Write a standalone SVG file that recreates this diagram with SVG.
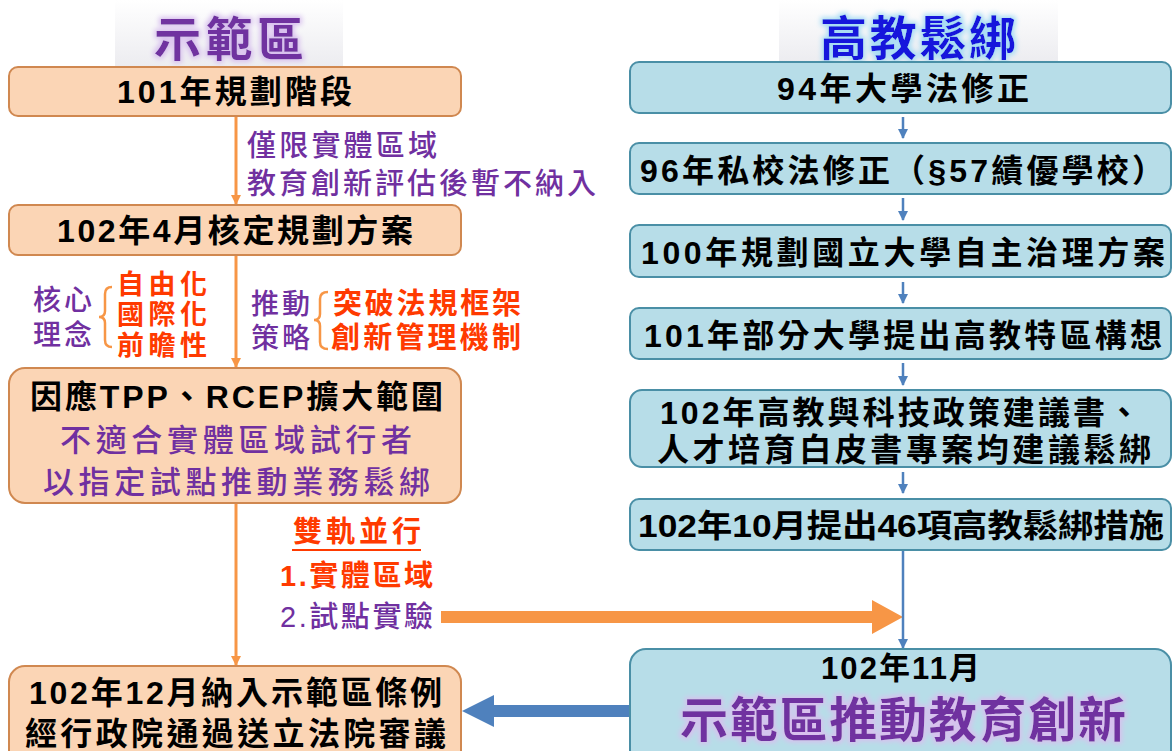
<svg xmlns="http://www.w3.org/2000/svg" width="1172" height="751" viewBox="0 0 1172 751">
<style>
.lbox{fill:#fbd5b5;stroke:#d08850;stroke-width:2}
.rbox{fill:#b7dde8;stroke:#4a8fa6;stroke-width:2}
.bk{font-family:"Liberation Sans","Noto Sans CJK TC",sans-serif;font-weight:bold;fill:#000}
.pu{font-family:"Liberation Sans","Noto Sans CJK TC",sans-serif;font-weight:500;fill:#7030a0}
.rd{font-family:"Liberation Sans","Noto Sans CJK TC",sans-serif;font-weight:bold;fill:#ff3a00}
.big{font-family:"Noto Sans CJK TC",sans-serif;font-weight:bold}
.oline{stroke:#f79646;stroke-width:3;fill:none}
.bline{stroke:#4f81bd;stroke-width:2.5;fill:none}
.brace{stroke:#f79646;stroke-width:2.5;fill:none}
</style>
<defs>
<linearGradient id="tbg" x1="0" y1="0" x2="0" y2="1">
<stop offset="0" stop-color="#ffffff"/>
<stop offset="1" stop-color="#ececf0"/>
</linearGradient>
<filter id="glowP" x="-10%" y="-30%" width="120%" height="160%">
<feMorphology in="SourceAlpha" operator="dilate" radius="2" result="d"/>
<feGaussianBlur in="d" stdDeviation="2.5" result="b"/>
<feFlood flood-color="#d8c0ee"/>
<feComposite in2="b" operator="in" result="g"/>
<feMerge><feMergeNode in="g"/><feMergeNode in="SourceGraphic"/></feMerge>
</filter>
<filter id="glowB" x="-10%" y="-30%" width="120%" height="160%">
<feMorphology in="SourceAlpha" operator="dilate" radius="2" result="d"/>
<feGaussianBlur in="d" stdDeviation="2.5" result="b"/>
<feFlood flood-color="#a8dcf4"/>
<feComposite in2="b" operator="in" result="g"/>
<feMerge><feMergeNode in="g"/><feMergeNode in="SourceGraphic"/></feMerge>
</filter>
<marker id="mo" viewBox="0 0 10 10" refX="9" refY="5" markerWidth="10" markerHeight="10" markerUnits="userSpaceOnUse" orient="auto">
<path d="M0,0 L10,5 L0,10 z" fill="#f79646"/>
</marker>
<marker id="mb" viewBox="0 0 10 10" refX="9" refY="5" markerWidth="10" markerHeight="10" markerUnits="userSpaceOnUse" orient="auto">
<path d="M0,0 L10,5 L0,10 z" fill="#4f81bd"/>
</marker>
</defs>
<rect width="1172" height="751" fill="#ffffff"/>

<g id="title-left">
<rect x="115" y="0" width="228" height="66" fill="url(#tbg)"/>
<text class="big" x="154" y="56" font-size="47" fill="#7030a0" textLength="150" lengthAdjust="spacing" filter="url(#glowP)">示範區</text>
</g>
<g id="title-right">
<rect x="779" y="0" width="279" height="62" fill="url(#tbg)"/>
<text class="big" x="820" y="55" font-size="47" fill="#1414dc" textLength="196" lengthAdjust="spacing" filter="url(#glowB)">高教鬆綁</text>
</g>

<g id="connectors">
<path class="oline" d="M236,117 L236,204" marker-end="url(#mo)"/>
<path class="oline" d="M236,256 L236,367" marker-end="url(#mo)"/>
<path class="oline" d="M236,504 L236,665" marker-end="url(#mo)"/>
<path class="bline" d="M903,117 L903,138" marker-end="url(#mb)"/>
<path class="bline" d="M903,198 L903,220" marker-end="url(#mb)"/>
<path class="bline" d="M903,282 L903,303" marker-end="url(#mb)"/>
<path class="bline" d="M903,363 L903,385" marker-end="url(#mb)"/>
<path class="bline" d="M903,472 L903,493" marker-end="url(#mb)"/>
<polygon points="441,611 872,611 872,600 903,617 872,634 872,623 441,623" fill="#f79646"/>
<path class="bline" d="M903,551 L903,648" marker-end="url(#mb)"/>
<polygon points="630,705 494,705 494,695 462,711 494,727 494,717 630,717" fill="#4f81bd"/>
</g>

<g id="node-l1">
<rect class="lbox" x="9" y="67" width="452" height="49" rx="9"/>
<text class="bk" x="117" y="103" font-size="32" textLength="235" lengthAdjust="spacing">101年規劃階段</text>
</g>
<g id="node-l2">
<rect class="lbox" x="9" y="205" width="452" height="50" rx="9"/>
<text class="bk" x="57" y="242" font-size="32" textLength="356" lengthAdjust="spacing">102年4月核定規劃方案</text>
</g>
<g id="node-l3">
<rect class="lbox" x="9" y="368" width="452" height="135" rx="16"/>
<text class="bk" x="30" y="408" font-size="32" textLength="413" lengthAdjust="spacing">因應TPP、RCEP擴大範圍</text>
<text class="pu" x="60" y="451" font-size="31" font-weight="bold" textLength="352" lengthAdjust="spacing">不適合實體區域試行者</text>
<text class="pu" x="43" y="493" font-size="31" font-weight="bold" textLength="387" lengthAdjust="spacing">以指定試點推動業務鬆綁</text>
</g>
<g id="node-l4">
<rect class="lbox" x="9" y="666" width="452" height="100" rx="16"/>
<text class="bk" x="29" y="704" font-size="32" textLength="413" lengthAdjust="spacing">102年12月納入示範區條例</text>
<text class="bk" x="25" y="745" font-size="32" textLength="421" lengthAdjust="spacing">經行政院通過送立法院審議</text>
</g>

<g id="label-l1">
<text class="pu" x="247" y="156" font-size="29" textLength="190" lengthAdjust="spacing">僅限實體區域</text>
<text class="pu" x="247" y="194" font-size="29" textLength="349" lengthAdjust="spacing">教育創新評估後暫不納入</text>
</g>
<g id="label-core">
<text class="pu" x="33" y="310" font-size="28" textLength="59" lengthAdjust="spacing">核心</text>
<text class="pu" x="33" y="345" font-size="28" textLength="59" lengthAdjust="spacing">理念</text>
<path class="brace" d="M112,287 Q105,287 105,294 L105,311 Q105,317 99,317 Q105,317 105,323 L105,340 Q105,347 112,347"/>
<text class="rd" x="117" y="294" font-size="27" textLength="90" lengthAdjust="spacing">自由化</text>
<text class="rd" x="117" y="324" font-size="27" textLength="90" lengthAdjust="spacing">國際化</text>
<text class="rd" x="117" y="355" font-size="27" textLength="90" lengthAdjust="spacing">前瞻性</text>
</g>
<g id="label-strategy">
<text class="pu" x="251" y="314" font-size="28" textLength="59" lengthAdjust="spacing">推動</text>
<text class="pu" x="251" y="348" font-size="28" textLength="59" lengthAdjust="spacing">策略</text>
<path class="brace" d="M328,292 Q320,292 320,299 L320,314 Q320,320 314,320 Q320,320 320,326 L320,342 Q320,349 328,349"/>
<text class="rd" x="333" y="314" font-size="29" textLength="188" lengthAdjust="spacing">突破法規框架</text>
<text class="rd" x="331" y="348" font-size="29" textLength="190" lengthAdjust="spacing">創新管理機制</text>
</g>
<g id="label-dual">
<text class="rd" x="293" y="542" font-size="29" font-weight="normal" textLength="128" lengthAdjust="spacing">雙軌並行</text>
<line x1="292" y1="550" x2="421" y2="550" stroke="#ff3a00" stroke-width="2"/>
<text class="rd" x="280" y="586" font-size="29" font-weight="normal" textLength="153" lengthAdjust="spacing">1.實體區域</text>
<text class="pu" x="280" y="627" font-size="29" textLength="153" lengthAdjust="spacing">2.試點實驗</text>
</g>

<g id="node-r1">
<rect class="rbox" x="630" y="62" width="541" height="51" rx="9"/>
<text class="bk" x="777" y="100" font-size="32" textLength="252" lengthAdjust="spacing">94年大學法修正</text>
</g>
<g id="node-r2">
<rect class="rbox" x="630" y="143" width="541" height="51" rx="9"/>
<text class="bk" x="640" y="182" font-size="32" textLength="524" lengthAdjust="spacing">96年私校法修正（§57績優學校）</text>
</g>
<g id="node-r3">
<rect class="rbox" x="630" y="225" width="541" height="52" rx="9"/>
<text class="bk" x="641" y="264" font-size="32" textLength="524" lengthAdjust="spacing">100年規劃國立大學自主治理方案</text>
</g>
<g id="node-r4">
<rect class="rbox" x="630" y="308" width="541" height="51" rx="9"/>
<text class="bk" x="644" y="347" font-size="32" textLength="518" lengthAdjust="spacing">101年部分大學提出高教特區構想</text>
</g>
<g id="node-r5">
<rect class="rbox" x="630" y="390" width="541" height="77" rx="12"/>
<text class="bk" x="660" y="424" font-size="32" textLength="480" lengthAdjust="spacing">102年高教與科技政策建議書、</text>
<text class="bk" x="657" y="461" font-size="32" textLength="494" lengthAdjust="spacing">人才培育白皮書專案均建議鬆綁</text>
</g>
<g id="node-r6">
<rect class="rbox" x="630" y="499" width="541" height="51" rx="9"/>
<text class="bk" x="638" y="537" font-size="32" textLength="526" lengthAdjust="spacingAndGlyphs">102年10月提出46項高教鬆綁措施</text>
</g>
<g id="node-r7">
<rect class="rbox" x="630" y="649" width="541" height="120" rx="16"/>
<text class="bk" x="821" y="679" font-size="31" textLength="159" lengthAdjust="spacing">102年11月</text>
<text class="big" x="680" y="737" font-size="48" fill="#7030a0" textLength="446" lengthAdjust="spacing" filter="url(#glowP)">示範區推動教育創新</text>
</g>
</svg>
